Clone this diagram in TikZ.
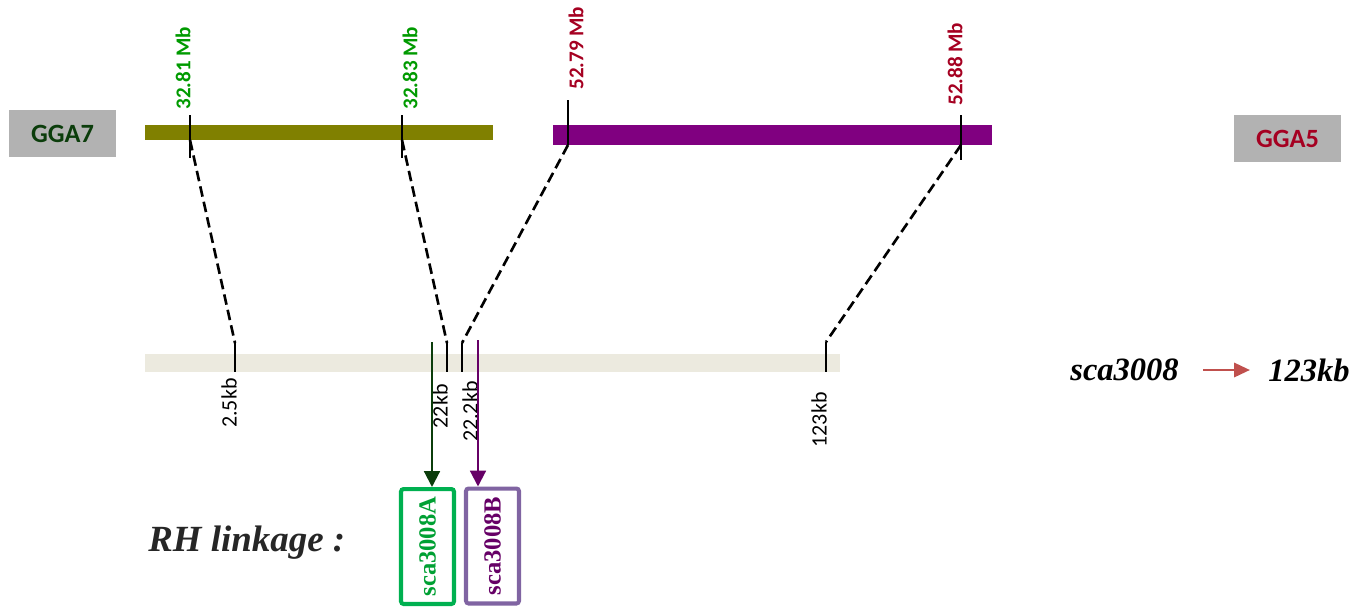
\documentclass[tikz,border=0pt]{standalone}
\usepackage{fontspec}
\setmainfont{Liberation Serif}
\setsansfont{Carlito}
\usetikzlibrary{arrows.meta,positioning}
\definecolor{chrgray}{HTML}{B2B2B2}
\definecolor{olive7}{HTML}{808000}
\definecolor{purple5}{HTML}{800080}
\definecolor{contigbg}{HTML}{ECEADF}
\definecolor{gga7txt}{HTML}{0B3D0B}
\definecolor{gga5txt}{HTML}{A50021}
\definecolor{mbgreen}{HTML}{009A00}
\definecolor{mbred}{HTML}{A50021}
\definecolor{darkgreen}{HTML}{0B3D0B}
\definecolor{darkpurple}{HTML}{660066}
\definecolor{boxgreen}{HTML}{00B050}
\definecolor{boxpurple}{HTML}{8064A2}
\definecolor{txtgreen}{HTML}{00A033}
\definecolor{arrowred}{HTML}{C0504D}
\definecolor{rhgray}{HTML}{262626}
\tikzset{
  chrbox/.style={
    rectangle, fill=chrgray, text=#1,
    minimum width=2.14cm, minimum height=0.94cm,
    font=\sffamily\bfseries\fontsize{15}{17}\selectfont
  },
  mblabel/.style={
    rotate=90, anchor=west, inner sep=0pt, text=#1,
    font=\sffamily\bfseries\fontsize{12}{14}\selectfont
  },
  kblabel/.style={
    rotate=90, anchor=east, inner sep=0pt,
    font=\sffamily\fontsize{12.5}{14}\selectfont
  },
  tick/.style={line width=1pt, black},
  mapline/.style={line width=1.5pt, dash pattern=on 6pt off 3pt},
  rhbox/.style={
    rectangle, draw=#1, line width=2.3pt, rounded corners=1.5pt,
    minimum width=1.06cm, minimum height=2.3cm, inner sep=0pt,
    font=\bfseries\fontsize{14}{16}\selectfont
  },
  rharrow/.style={
    -{Triangle[length=9pt,width=9pt]}, line width=1.2pt, color=#1
  },
  bigtext/.style={inner sep=0pt, font=\bfseries\itshape\fontsize{18.5}{22}\selectfont}
}
\begin{document}
\begin{tikzpicture}[x=0.02cm, y=-0.02cm]
\useasboundingbox (0,0) rectangle (1359,613);
% chromosome names
\node[chrbox=gga7txt] (gga7) at (62.5,133.5) {GGA7};
\node[chrbox=gga5txt] (gga5) at (1287.5,138.5) {GGA5};
% chromosome and contig bars
\fill[olive7] (145,125) rectangle (493,140);
\fill[purple5] (553,125) rectangle (992,145);
\fill[contigbg] (145,354) rectangle (840,372);
% top ticks
\coordinate (m1) at (190,140);
\coordinate (m2) at (402,140);
\coordinate (m3) at (568,145);
\coordinate (m4) at (961,145);
\draw[tick] (190,115) -- (190,158);
\draw[tick] (402,115) -- (402,158);
\draw[tick] (568,100) -- (m3);
\draw[tick] (961,115) -- (961,160);
\node[mblabel=mbgreen] (mb1) at (183,110) {32.81 Mb};
\node[mblabel=mbgreen] (mb2) at (410,110) {32.83 Mb};
\node[mblabel=mbred] (mb3) at (576,90) {52.79 Mb};
\node[mblabel=mbred] (mb4) at (955,106) {52.88 Mb};
% contig ticks
\coordinate (k1) at (235,343);
\coordinate (k2) at (447,343);
\coordinate (k3) at (462,343);
\coordinate (k4) at (826,342);
\foreach \k in {k1,k2,k3,k4}
  \draw[tick] (\k) -- (\k |- 0,372);
\node[kblabel] (kb1) at (229,378) {2.5kb};
\node[kblabel] (kb2) at (440,384) {22kb};
\node[kblabel] (kb3) at (470,381) {22.2kb};
\node[kblabel] (kb4) at (819,392) {123kb};
% mapping lines
\draw[mapline] (m1) -- (k1);
\draw[mapline] (m2) -- (k2);
\draw[mapline] (m3) -- (k3);
\draw[mapline] (m4) -- (k4);
% RH linkage
\node[rhbox=boxgreen, text=txtgreen] (sca-a) at (427.5,546.5) {\rotatebox{90}{sca3008A}};
\node[rhbox=boxpurple, text=darkpurple] (sca-b) at (492.5,546) {\rotatebox{90}{sca3008B}};
\coordinate (ta) at (432,342);
\coordinate (tb) at (478,340);
\draw[rharrow=darkgreen] (ta) -- (ta |- sca-a.north);
\draw[rharrow=darkpurple] (tb) -- (tb |- sca-b.north);
\node[bigtext, text=rhgray, anchor=west, font=\bfseries\itshape\fontsize{21}{24}\selectfont] (rh) at (148,543) {RH linkage :};
% contig size
\node[bigtext, anchor=west] (sca) at (1070,370) {sca3008};
\node[bigtext, anchor=west] (size) at (1268,370) {123kb};
\coordinate (sz-from) at (1203,370);
\coordinate (sz-to) at (1250,370);
\draw[-{Triangle[length=9pt,width=8pt]}, line width=1.6pt, arrowred]
  (sz-from) -- (sz-to);
\end{tikzpicture}
\end{document}
